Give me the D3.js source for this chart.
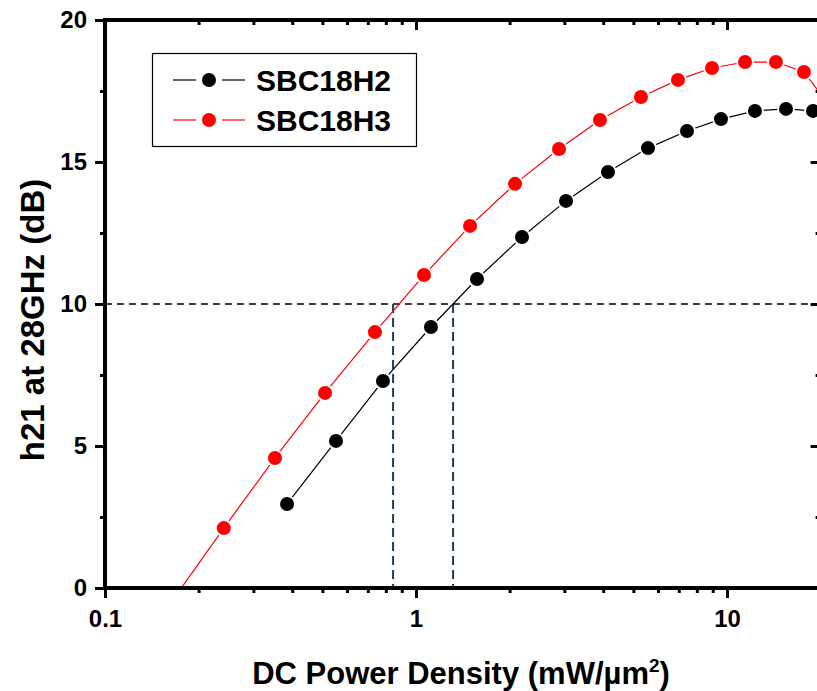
<!DOCTYPE html>
<html>
<head>
<meta charset="utf-8">
<script src="https://cdn.jsdelivr.net/npm/d3@7"></script>
<style>
  body { margin: 0; background: #fff; }
  svg { display: block; font-family: "Liberation Sans", Arial, sans-serif; }
</style>
</head>
<body>
<div id="chart"></div>
<script>
// Data
var h2Power = [0.385, 0.553, 0.783, 1.117, 1.571, 2.192, 3.037, 4.143, 5.572, 7.437, 9.565, 12.30, 15.48, 18.90];
var h2Gain  = [2.96, 5.18, 7.29, 9.19, 10.88, 12.36, 13.63, 14.65, 15.49, 16.09, 16.51, 16.80, 16.87, 16.80];

var h3Power = [0.167, 0.241, 0.352, 0.510, 0.738, 1.061, 1.492, 2.082, 2.883, 3.905, 5.290, 6.957, 8.95, 11.43, 14.37, 17.68, 21.76];
var h3Gain  = [-0.35, 2.11, 4.58, 6.87, 9.01, 11.02, 12.75, 14.23, 15.46, 16.48, 17.29, 17.89, 18.31, 18.52, 18.52, 18.17, 16.87];

var seriesNames = ["SBC18H2", "SBC18H3"];
var seriesColors = ["#000000", "#ff0000"];

// 10 dB guide line and where each device crosses it
var targetGain = 10;
var crossPower = [0.844, 1.316];

var xMajorTicks = [0.1, 1, 10];
var xMinorTicks = [0.2, 0.3, 0.4, 0.5, 0.6, 0.7, 0.8, 0.9, 2, 3, 4, 5, 6, 7, 8, 9];
var yMajorTicks = [0, 5, 10, 15, 20];
var yMinorTicks = [2.5, 7.5, 12.5, 17.5];

var width = 817;
var height = 691;
var plotLeft = 105, plotRight = 820.6, plotTop = 20, plotBottom = 588;

var svg = d3.select("#chart").append("svg")
  .attr("width", width)
  .attr("height", height);

var xScale = d3.scaleLog().domain([0.1, 20]).range([plotLeft, plotRight]);
var yScale = d3.scaleLinear().domain([0, 20]).range([plotBottom, plotTop]);

// clip region for the data
svg.append("clipPath").attr("id", "plotClip")
  .append("rect")
  .attr("x", plotLeft).attr("y", plotTop)
  .attr("width", plotRight - plotLeft).attr("height", plotBottom - plotTop);

var plot = svg.append("g").attr("clip-path", "url(#plotClip)");

// dashed guides
plot.append("line")
  .attr("x1", plotLeft).attr("x2", plotRight)
  .attr("y1", yScale(targetGain)).attr("y2", yScale(targetGain))
  .attr("stroke", "#000")
  .attr("stroke-width", 1.3)
  .attr("stroke-dasharray", "7,5");

plot.selectAll(".vguide").data(crossPower).enter().append("line")
  .attr("class", "vguide")
  .attr("x1", function(d) { return xScale(d); })
  .attr("x2", function(d) { return xScale(d); })
  .attr("y1", yScale(targetGain))
  .attr("y2", yScale(0))
  .attr("stroke", "#1f3a5c")
  .attr("stroke-width", 2)
  .attr("stroke-dasharray", "9,5");

// build series
var series = [
  { name: seriesNames[0], color: seriesColors[0], pts: h2Power.map(function(p, i) { return [p, h2Gain[i]]; }) },
  { name: seriesNames[1], color: seriesColors[1], pts: h3Power.map(function(p, i) { return [p, h3Gain[i]]; }) }
];

var line = d3.line()
  .x(function(d) { return xScale(d[0]); })
  .y(function(d) { return yScale(d[1]); });

series.forEach(function(s) {
  plot.append("path")
    .datum(s.pts)
    .attr("fill", "none")
    .attr("stroke", s.color)
    .attr("stroke-width", 1.2)
    .attr("d", line);
});

series.forEach(function(s) {
  var g = plot.append("g");
  // white halo makes the little gap between line and symbol
  g.selectAll(".halo").data(s.pts).enter().append("circle")
    .attr("cx", function(d) { return xScale(d[0]); })
    .attr("cy", function(d) { return yScale(d[1]); })
    .attr("r", 8.8)
    .attr("fill", "#fff");
  g.selectAll(".dot").data(s.pts).enter().append("circle")
    .attr("cx", function(d) { return xScale(d[0]); })
    .attr("cy", function(d) { return yScale(d[1]); })
    .attr("r", 7)
    .attr("fill", s.color);
});

// axes
var fmt = function(d) { return d < 1 ? d.toFixed(1) : String(d); };

function styleAxis(g, fontSize) {
  g.select(".domain").remove();
  g.selectAll(".tick line").attr("stroke", "#000").attr("stroke-width", 3);
  g.selectAll("text")
    .attr("fill", "#000")
    .style("font-size", fontSize + "px")
    .style("font-weight", "bold")
    .style("font-family", "'Liberation Sans', Arial, sans-serif");
}

var xAxisG = svg.append("g").attr("transform", "translate(0," + plotBottom + ")")
  .call(d3.axisBottom(xScale).tickValues(xMajorTicks).tickSize(10).tickPadding(12).tickFormat(fmt));
styleAxis(xAxisG, 24);
var xMinorG = svg.append("g").attr("transform", "translate(0," + plotBottom + ")")
  .call(d3.axisBottom(xScale).tickValues(xMinorTicks).tickSize(5).tickFormat(""));
styleAxis(xMinorG, 24);

var topG = svg.append("g").attr("transform", "translate(0," + plotTop + ")")
  .call(d3.axisTop(xScale).tickValues(xMajorTicks).tickSize(-10).tickFormat(""));
styleAxis(topG, 24);
var topMinorG = svg.append("g").attr("transform", "translate(0," + plotTop + ")")
  .call(d3.axisTop(xScale).tickValues(xMinorTicks).tickSize(-5).tickFormat(""));
styleAxis(topMinorG, 24);

var yAxisG = svg.append("g").attr("transform", "translate(" + plotLeft + ",0)")
  .call(d3.axisLeft(yScale).tickValues(yMajorTicks).tickSize(10).tickPadding(8));
styleAxis(yAxisG, 24);
var yMinorG = svg.append("g").attr("transform", "translate(" + plotLeft + ",0)")
  .call(d3.axisLeft(yScale).tickValues(yMinorTicks).tickSize(5).tickFormat(""));
styleAxis(yMinorG, 24);

var rightG = svg.append("g").attr("transform", "translate(" + plotRight + ",0)")
  .call(d3.axisRight(yScale).tickValues(yMajorTicks).tickSize(-10).tickFormat(""));
styleAxis(rightG, 24);
var rightMinorG = svg.append("g").attr("transform", "translate(" + plotRight + ",0)")
  .call(d3.axisRight(yScale).tickValues(yMinorTicks).tickSize(-5).tickFormat(""));
styleAxis(rightMinorG, 24);

// frame
svg.append("rect")
  .attr("x", plotLeft).attr("y", plotTop)
  .attr("width", plotRight - plotLeft).attr("height", plotBottom - plotTop)
  .attr("fill", "none")
  .attr("stroke", "#000")
  .attr("stroke-width", 4);

// axis titles
var xTitle = svg.append("text")
  .attr("x", 461)
  .attr("y", 684)
  .attr("text-anchor", "middle")
  .style("font-size", "31px")
  .style("font-weight", "bold")
  .text("DC Power Density (mW/\u00b5m");
xTitle.append("tspan")
  .attr("dy", -12)
  .style("font-size", "19px")
  .text("2");
xTitle.append("tspan")
  .attr("dy", 12)
  .text(")");

svg.append("text")
  .attr("transform", "translate(44," + 320 + ") rotate(-90)")
  .attr("text-anchor", "middle")
  .style("font-size", "33px")
  .style("font-weight", "bold")
  .text("h21 at 28GHz (dB)");

// legend
var legend = svg.append("g");
legend.append("rect")
  .attr("x", 152.5).attr("y", 53.5)
  .attr("width", 264).attr("height", 93)
  .attr("fill", "#fff")
  .attr("stroke", "#000")
  .attr("stroke-width", 1.2);

var rowY = [80, 120];
series.forEach(function(s, i) {
  var row = legend.append("g").attr("transform", "translate(0," + rowY[i] + ")");
  row.append("line").attr("x1", 173).attr("x2", 196).attr("y1", 0).attr("y2", 0)
    .attr("stroke", s.color).attr("stroke-width", 1.2);
  row.append("line").attr("x1", 222).attr("x2", 245).attr("y1", 0).attr("y2", 0)
    .attr("stroke", s.color).attr("stroke-width", 1.2);
  row.append("circle").attr("cx", 209).attr("cy", 0).attr("r", 7).attr("fill", s.color);
  row.append("text")
    .attr("x", 256)
    .attr("y", 11)
    .style("font-size", "30px")
    .style("font-weight", "bold")
    .text(s.name);
});
</script>
</body>
</html>
